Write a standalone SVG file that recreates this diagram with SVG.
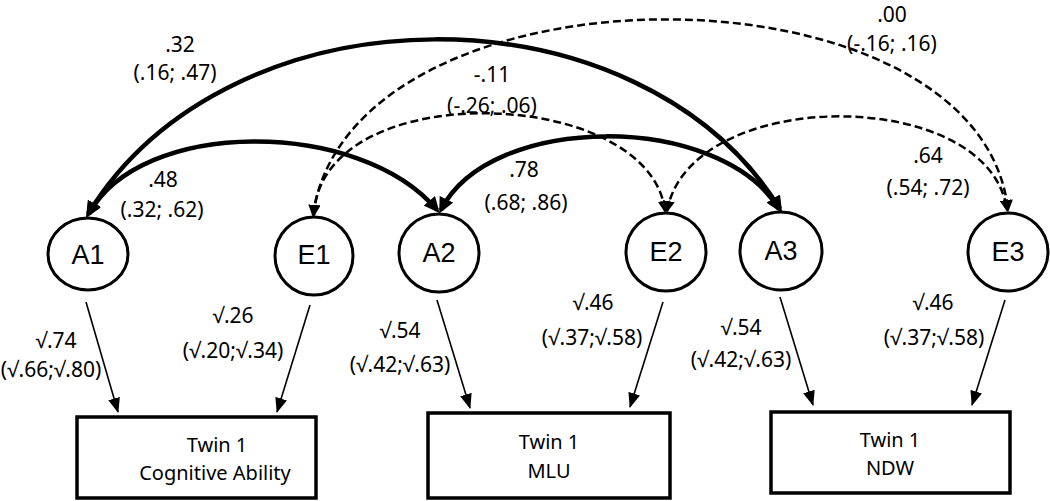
<svg xmlns="http://www.w3.org/2000/svg" width="1050" height="501" viewBox="0 0 1050 501">
<style>
.bg{fill:#fff}
.lat{fill:#fff;stroke:#000;stroke-width:3}
.box{fill:#fff;stroke:#000;stroke-width:3.5}
.lt{font-family:"Liberation Sans",Arial,sans-serif;font-size:27px;text-anchor:middle;fill:#000}
.lbl{font-family:"Noto Sans","Open Sans","DejaVu Sans",sans-serif;font-size:21px;text-anchor:middle;fill:#000}
.bt{font-family:"Noto Sans","Open Sans",sans-serif;font-size:20px;text-anchor:middle;fill:#000}
.solid{fill:none;stroke:#000;stroke-width:4.5;marker-start:url(#hs);marker-end:url(#hs)}
.dash{fill:none;stroke:#000;stroke-width:2.5;stroke-dasharray:8 4;marker-start:url(#hd);marker-end:url(#hd)}
.path{fill:none;stroke:#000;stroke-width:1.6;marker-end:url(#ht)}
</style>
<defs>
<marker id="hs" markerUnits="userSpaceOnUse" viewBox="0 0 16 15" markerWidth="16" markerHeight="15" refX="12" refY="7.5" orient="auto-start-reverse"><path d="M0,0 L16,7.5 L0,15 z" fill="#000"/></marker>
<marker id="hd" markerUnits="userSpaceOnUse" viewBox="0 0 12 12" markerWidth="12" markerHeight="12" refX="10" refY="6" orient="auto-start-reverse"><path d="M0,0 L12,6 L0,12 z" fill="#000"/></marker>
<marker id="ht" markerUnits="userSpaceOnUse" viewBox="0 0 15 12" markerWidth="15" markerHeight="12" refX="14" refY="6" orient="auto"><path d="M0,0 L15,6 L0,12 z" fill="#000"/></marker>
</defs>
<rect class="bg" x="0" y="0" width="1050" height="501"/>
<g id="connectors">
<path class="solid" d="M88,214 C230,-18 640,-18 780,209"/>
<path class="solid" d="M89,214 C140,118 360,118 437,210"/>
<path class="solid" d="M441,210 C490,112 720,112 779,209"/>
<path class="dash" d="M313,215 C350,-45 980,-45 1008,210"/>
<path class="dash" d="M314,215 C320,75 650,85 665,211"/>
<path class="dash" d="M667,211 C690,85 990,85 1007,210"/>
<line class="path" x1="86" y1="302" x2="118" y2="412"/>
<line class="path" x1="310" y1="305" x2="277" y2="412"/>
<line class="path" x1="437" y1="300" x2="470" y2="408"/>
<line class="path" x1="663" y1="302" x2="630" y2="407"/>
<line class="path" x1="780" y1="297" x2="813" y2="405"/>
<line class="path" x1="1005" y1="300" x2="972" y2="405"/>
</g>
<g id="labels">
<text class="lbl" x="180" y="52">.32</text>
<text class="lbl" x="175" y="80">(.16; .47)</text>
<text class="lbl" x="492" y="82">-.11</text>
<text class="lbl" x="492" y="113">(-.26; .06)</text>
<text class="lbl" x="163" y="187">.48</text>
<text class="lbl" x="162" y="217">(.32; .62)</text>
<text class="lbl" x="524" y="177">.78</text>
<text class="lbl" x="526" y="210">(.68; .86)</text>
<text class="lbl" x="892" y="22">.00</text>
<text class="lbl" x="892" y="51">(-.16; .16)</text>
<text class="lbl" x="928" y="163">.64</text>
<text class="lbl" x="928" y="195">(.54; .72)</text>
<text class="lbl" x="56" y="348">√.74</text>
<text class="lbl" x="51" y="377">(√.66;√.80)</text>
<text class="lbl" x="233" y="323">√.26</text>
<text class="lbl" x="233" y="358">(√.20;√.34)</text>
<text class="lbl" x="400" y="338">√.54</text>
<text class="lbl" x="400" y="372">(√.42;√.63)</text>
<text class="lbl" x="593" y="310">√.46</text>
<text class="lbl" x="592" y="345">(√.37;√.58)</text>
<text class="lbl" x="741" y="335">√.54</text>
<text class="lbl" x="741" y="367">(√.42;√.63)</text>
<text class="lbl" x="933" y="310">√.46</text>
<text class="lbl" x="934" y="345">(√.37;√.58)</text>
</g>
<g id="A1"><ellipse class="lat" cx="88" cy="254" rx="40" ry="36"/><text class="lt" x="88" y="264">A1</text></g>
<g id="E1"><ellipse class="lat" cx="314" cy="256" rx="39" ry="39"/><text class="lt" x="314" y="264">E1</text></g>
<g id="A2"><ellipse class="lat" cx="439" cy="253" rx="40" ry="39"/><text class="lt" x="439" y="262">A2</text></g>
<g id="E2"><ellipse class="lat" cx="666" cy="252" rx="40" ry="39"/><text class="lt" x="666" y="261">E2</text></g>
<g id="A3"><ellipse class="lat" cx="781" cy="251" rx="41" ry="39"/><text class="lt" x="781" y="260">A3</text></g>
<g id="E3"><ellipse class="lat" cx="1008" cy="252" rx="40" ry="39"/><text class="lt" x="1008" y="261">E3</text></g>
<g id="box1"><rect class="box" x="77" y="417" width="239" height="81"/><text class="bt" x="217" y="452">Twin 1</text><text class="bt" x="215" y="480">Cognitive Ability</text></g>
<g id="box2"><rect class="box" x="428" y="413" width="242" height="85"/><text class="bt" x="549" y="449">Twin 1</text><text class="bt" x="549" y="478">MLU</text></g>
<g id="box3"><rect class="box" x="771" y="412" width="239" height="81"/><text class="bt" x="890" y="447">Twin 1</text><text class="bt" x="890" y="475">NDW</text></g>
</svg>
